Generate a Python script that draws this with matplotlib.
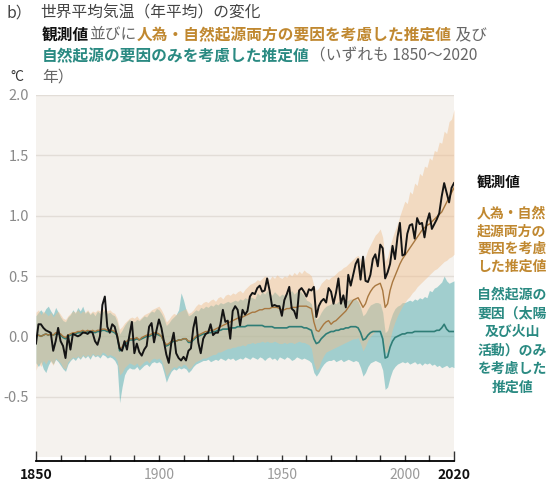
import numpy as np
import matplotlib
matplotlib.use('Agg')
import matplotlib.pyplot as plt

plt.rcParams['font.family'] = ['Noto Sans CJK JP', 'DejaVu Sans']

# ---- data (deg C, relative to 1850-1900) ----
years = np.arange(1850, 2021)

observed = [
    -0.06, 0.10, 0.10, 0.07, 0.05, 0.04, 0.03, -0.12, -0.04, 0.07,
    -0.04, -0.08, -0.18, 0.01, -0.11, 0.02, 0.01, 0.00, 0.01, 0.03,
    0.03, 0.02, 0.04, 0.03, -0.04, -0.07, 0.00, 0.26, 0.33, 0.08,
    0.03, 0.10, 0.08, 0.00, -0.10, -0.12, -0.04, -0.11, 0.01, 0.12,
    -0.14, -0.06, -0.13, -0.16, -0.11, -0.08, 0.08, 0.11, -0.05, 0.05,
    0.14, 0.07, -0.04, -0.15, -0.22, -0.06, 0.03, -0.14, -0.18, -0.20,
    -0.17, -0.20, -0.12, -0.10, 0.07, 0.16, -0.05, -0.14, -0.02, 0.02,
    0.03, 0.10, 0.01, 0.03, 0.03, 0.10, 0.22, 0.12, 0.13, -0.02,
    0.21, 0.25, 0.22, 0.09, 0.22, 0.18, 0.21, 0.33, 0.36, 0.35,
    0.40, 0.42, 0.37, 0.38, 0.48, 0.38, 0.25, 0.26, 0.25, 0.25,
    0.17, 0.30, 0.35, 0.41, 0.23, 0.21, 0.15, 0.38, 0.40, 0.37,
    0.33, 0.39, 0.38, 0.41, 0.16, 0.25, 0.29, 0.31, 0.28, 0.40,
    0.37, 0.27, 0.36, 0.48, 0.27, 0.34, 0.24, 0.51, 0.42, 0.51,
    0.60, 0.64, 0.47, 0.66, 0.46, 0.45, 0.51, 0.64, 0.68, 0.58,
    0.76, 0.73, 0.48, 0.53, 0.60, 0.75, 0.64, 0.82, 0.94, 0.67,
    0.68, 0.85, 0.92, 0.93, 0.81, 0.98, 0.93, 0.94, 0.82, 0.95,
    1.02, 0.89, 0.93, 0.97, 1.02, 1.16, 1.27, 1.19, 1.11, 1.23,
    1.27,
]

# human + natural forcing, model mean and range
both_mean = [
    0.00, 0.01, 0.00, 0.01, 0.02, 0.01, 0.02, 0.01, 0.03, 0.03,
    0.02, 0.00, -0.01, 0.01, 0.02, 0.03, 0.03, 0.04, 0.04, 0.05,
    0.04, 0.05, 0.04, 0.05, 0.04, 0.05, 0.05, 0.06, 0.06, 0.05,
    0.05, 0.05, 0.04, 0.02, -0.10, -0.09, -0.05, -0.04, -0.02, -0.02,
    -0.02, -0.01, -0.03, -0.01, 0.00, 0.01, 0.01, 0.02, 0.03, 0.03,
    0.02, 0.00, -0.04, -0.07, -0.06, -0.04, -0.03, -0.04, -0.03, -0.03,
    -0.02, -0.02, -0.04, -0.04, -0.02, 0.00, 0.01, 0.02, 0.03, 0.04,
    0.04, 0.05, 0.05, 0.06, 0.07, 0.08, 0.09, 0.10, 0.11, 0.12,
    0.13, 0.14, 0.15, 0.16, 0.16, 0.17, 0.18, 0.19, 0.20, 0.20,
    0.21, 0.22, 0.22, 0.23, 0.23, 0.23, 0.24, 0.24, 0.24, 0.23,
    0.22, 0.22, 0.23, 0.23, 0.24, 0.24, 0.24, 0.25, 0.25, 0.25,
    0.25, 0.24, 0.23, 0.12, 0.05, 0.04, 0.07, 0.10, 0.12, 0.13,
    0.10, 0.12, 0.13, 0.15, 0.17, 0.19, 0.21, 0.24, 0.27, 0.30,
    0.31, 0.32, 0.28, 0.24, 0.27, 0.33, 0.37, 0.40, 0.42, 0.43,
    0.44, 0.38, 0.24, 0.27, 0.38, 0.45, 0.50, 0.55, 0.60, 0.64,
    0.67, 0.70, 0.73, 0.76, 0.79, 0.82, 0.85, 0.88, 0.90, 0.92,
    0.93, 0.95, 0.97, 0.99, 1.01, 1.03, 1.07, 1.11, 1.15, 1.19,
    1.23,
]
both_low = [
    -0.28, -0.22, -0.25, -0.20, -0.23, -0.19, -0.21, -0.24, -0.18, -0.20,
    -0.22, -0.26, -0.27, -0.21, -0.19, -0.17, -0.18, -0.16, -0.18, -0.15,
    -0.17, -0.15, -0.17, -0.14, -0.16, -0.15, -0.16, -0.13, -0.14, -0.16,
    -0.15, -0.16, -0.17, -0.20, -0.32, -0.30, -0.26, -0.24, -0.22, -0.23,
    -0.24, -0.22, -0.25, -0.23, -0.21, -0.20, -0.22, -0.19, -0.18, -0.19,
    -0.18, -0.20, -0.26, -0.33, -0.30, -0.27, -0.25, -0.26, -0.24, -0.25,
    -0.23, -0.24, -0.27, -0.26, -0.23, -0.21, -0.20, -0.19, -0.18, -0.18,
    -0.17, -0.16, -0.15, -0.15, -0.13, -0.13, -0.12, -0.11, -0.10, -0.10,
    -0.09, -0.09, -0.08, -0.08, -0.07, -0.08, -0.06, -0.06, -0.05, -0.06,
    -0.05, -0.05, -0.04, -0.05, -0.04, -0.05, -0.05, -0.04, -0.05, -0.06,
    -0.06, -0.05, -0.06, -0.05, -0.05, -0.06, -0.05, -0.04, -0.05, -0.05,
    -0.06, -0.07, -0.10, -0.22, -0.28, -0.26, -0.20, -0.16, -0.13, -0.12,
    -0.11, -0.10, -0.09, -0.08, -0.07, -0.06, -0.05, -0.04, -0.03, -0.02,
    -0.02, -0.01, -0.06, -0.12, -0.08, -0.03, 0.00, 0.02, 0.04, 0.05,
    0.06, 0.00, -0.14, -0.12, -0.02, 0.06, 0.12, 0.17, 0.21, 0.25,
    0.28, 0.31, 0.33, 0.36, 0.38, 0.41, 0.43, 0.45, 0.47, 0.49,
    0.51, 0.53, 0.55, 0.56, 0.58, 0.60, 0.62, 0.63, 0.65, 0.66,
    0.68,
]
both_high = [
    0.20, 0.22, 0.18, 0.21, 0.19, 0.17, 0.20, 0.16, 0.19, 0.21,
    0.18, 0.15, 0.14, 0.17, 0.19, 0.21, 0.20, 0.22, 0.19, 0.21,
    0.20, 0.22, 0.19, 0.21, 0.20, 0.22, 0.21, 0.23, 0.22, 0.21,
    0.22, 0.20, 0.19, 0.15, 0.06, 0.08, 0.11, 0.13, 0.15, 0.16,
    0.15, 0.17, 0.14, 0.16, 0.18, 0.19, 0.20, 0.22, 0.23, 0.24,
    0.25, 0.22, 0.18, 0.12, 0.14, 0.17, 0.19, 0.18, 0.20, 0.21,
    0.22, 0.23, 0.19, 0.20, 0.22, 0.25, 0.27, 0.26, 0.28, 0.29,
    0.28, 0.30, 0.31, 0.29, 0.32, 0.33, 0.31, 0.34, 0.35, 0.34,
    0.36, 0.35, 0.37, 0.38, 0.36, 0.39, 0.41, 0.43, 0.44, 0.45,
    0.47, 0.46, 0.48, 0.50, 0.49, 0.47, 0.50, 0.48, 0.51, 0.49,
    0.48, 0.50, 0.49, 0.52, 0.50, 0.53, 0.51, 0.54, 0.52, 0.55,
    0.53, 0.52, 0.50, 0.42, 0.38, 0.40, 0.44, 0.46, 0.48, 0.47,
    0.49, 0.50, 0.52, 0.54, 0.55, 0.57, 0.58, 0.60, 0.62, 0.64,
    0.66, 0.67, 0.64, 0.60, 0.66, 0.72, 0.76, 0.80, 0.84, 0.86,
    0.89, 0.82, 0.62, 0.66, 0.75, 0.82, 0.88, 0.93, 1.00, 1.06,
    1.12, 1.10, 1.20, 1.18, 1.27, 1.25, 1.35, 1.33, 1.41, 1.40,
    1.48, 1.46, 1.54, 1.53, 1.61, 1.60, 1.70, 1.68, 1.78, 1.80,
    1.88,
]

# natural forcing only (solar + volcanic), model mean and range
natural_mean = [
    0.00, 0.01, 0.00, 0.01, 0.02, 0.01, 0.02, 0.01, 0.02, 0.02,
    0.01, -0.01, -0.02, 0.00, 0.01, 0.02, 0.02, 0.03, 0.03, 0.04,
    0.03, 0.04, 0.03, 0.04, 0.03, 0.04, 0.04, 0.05, 0.05, 0.04,
    0.04, 0.04, 0.03, 0.01, -0.12, -0.11, -0.07, -0.05, -0.03, -0.03,
    -0.03, -0.02, -0.03, -0.02, -0.01, 0.00, 0.00, 0.01, 0.02, 0.02,
    0.01, 0.00, -0.04, -0.08, -0.07, -0.05, -0.04, -0.04, -0.03, -0.03,
    -0.02, -0.02, -0.05, -0.05, -0.03, -0.01, 0.00, 0.01, 0.02, 0.02,
    0.03, 0.03, 0.04, 0.04, 0.05, 0.05, 0.06, 0.06, 0.06, 0.07,
    0.07, 0.07, 0.08, 0.08, 0.08, 0.08, 0.09, 0.09, 0.09, 0.09,
    0.09, 0.09, 0.09, 0.08, 0.08, 0.08, 0.08, 0.07, 0.07, 0.07,
    0.07, 0.07, 0.07, 0.08, 0.08, 0.08, 0.08, 0.08, 0.08, 0.07,
    0.07, 0.06, 0.05, -0.02, -0.06, -0.05, -0.02, 0.00, 0.02, 0.03,
    0.04, 0.04, 0.05, 0.05, 0.06, 0.06, 0.07, 0.07, 0.08, 0.08,
    0.08, 0.07, 0.03, -0.03, -0.02, 0.01, 0.03, 0.04, 0.04, 0.04,
    0.04, -0.02, -0.18, -0.17, -0.09, -0.04, -0.01, 0.00, 0.01, 0.02,
    0.02, 0.03, 0.03, 0.03, 0.04, 0.04, 0.04, 0.04, 0.04, 0.04,
    0.04, 0.04, 0.04, 0.05, 0.05, 0.07, 0.10, 0.06, 0.04, 0.04,
    0.04,
]
natural_low = [
    -0.22, -0.25, -0.21, -0.27, -0.30, -0.24, -0.20, -0.23, -0.19, -0.21,
    -0.24, -0.27, -0.29, -0.23, -0.20, -0.18, -0.20, -0.17, -0.19, -0.16,
    -0.18, -0.16, -0.19, -0.15, -0.17, -0.16, -0.18, -0.15, -0.16, -0.18,
    -0.17, -0.18, -0.20, -0.24, -0.55, -0.42, -0.32, -0.28, -0.26, -0.27,
    -0.27, -0.25, -0.28, -0.26, -0.24, -0.23, -0.25, -0.22, -0.21, -0.22,
    -0.21, -0.23, -0.30, -0.38, -0.33, -0.29, -0.27, -0.28, -0.26, -0.27,
    -0.26, -0.27, -0.30, -0.28, -0.25, -0.23, -0.22, -0.21, -0.20, -0.20,
    -0.19, -0.21, -0.20, -0.19, -0.20, -0.18, -0.19, -0.20, -0.18, -0.19,
    -0.18, -0.20, -0.19, -0.18, -0.19, -0.17, -0.18, -0.19, -0.17, -0.18,
    -0.19, -0.17, -0.18, -0.20, -0.18, -0.17, -0.19, -0.18, -0.20, -0.17,
    -0.18, -0.19, -0.17, -0.18, -0.20, -0.19, -0.17, -0.18, -0.19, -0.18,
    -0.19, -0.20, -0.22, -0.30, -0.33, -0.30, -0.26, -0.23, -0.21, -0.20,
    -0.20, -0.19, -0.21, -0.20, -0.19, -0.21, -0.20, -0.19, -0.20, -0.21,
    -0.20, -0.21, -0.26, -0.33, -0.30, -0.25, -0.22, -0.21, -0.20, -0.21,
    -0.22, -0.28, -0.44, -0.42, -0.34, -0.28, -0.25, -0.23, -0.22, -0.21,
    -0.22, -0.21, -0.23, -0.22, -0.21, -0.23, -0.22, -0.24, -0.22, -0.23,
    -0.22, -0.24, -0.23, -0.25, -0.24, -0.26, -0.25, -0.24, -0.26, -0.25,
    -0.26,
]
natural_high = [
    0.17, 0.20, 0.22, 0.19, 0.23, 0.25, 0.21, 0.18, 0.24, 0.20,
    0.16, 0.13, 0.12, 0.16, 0.18, 0.22, 0.19, 0.24, 0.21, 0.25,
    0.19, 0.21, 0.18, 0.20, 0.17, 0.21, 0.19, 0.20, 0.22, 0.19,
    0.20, 0.18, 0.17, 0.12, 0.02, 0.05, 0.09, 0.12, 0.14, 0.13,
    0.12, 0.14, 0.13, 0.15, 0.17, 0.16, 0.19, 0.21, 0.20, 0.23,
    0.22, 0.19, 0.15, 0.09, 0.11, 0.14, 0.16, 0.18, 0.22, 0.36,
    0.30, 0.22, 0.17, 0.18, 0.20, 0.22, 0.21, 0.24, 0.23, 0.25,
    0.24, 0.26, 0.25, 0.27, 0.26, 0.28, 0.27, 0.28, 0.29, 0.28,
    0.29, 0.30, 0.29, 0.31, 0.30, 0.32, 0.31, 0.33, 0.32, 0.31,
    0.36, 0.34, 0.37, 0.35, 0.38, 0.36, 0.34, 0.37, 0.35, 0.33,
    0.35, 0.34, 0.37, 0.36, 0.38, 0.35, 0.37, 0.39, 0.36, 0.34,
    0.30, 0.29, 0.27, 0.18, 0.14, 0.16, 0.20, 0.23, 0.25, 0.26,
    0.27, 0.28, 0.27, 0.29, 0.28, 0.30, 0.29, 0.30, 0.31, 0.30,
    0.31, 0.29, 0.24, 0.17, 0.19, 0.23, 0.26, 0.27, 0.28, 0.28,
    0.27, 0.20, 0.03, 0.05, 0.13, 0.19, 0.23, 0.25, 0.26, 0.28,
    0.28, 0.29, 0.30, 0.29, 0.31, 0.30, 0.32, 0.31, 0.33, 0.32,
    0.38, 0.37, 0.40, 0.41, 0.43, 0.45, 0.50, 0.46, 0.44, 0.45,
    0.46,
]

x_ticks = [1850, 1900, 1950, 2000, 2020]
x_labels = ['1850', '1900', '1950', '2000', '2020']
y_ticks = [-0.5, 0.0, 0.5, 1.0, 1.5, 2.0]
y_labels = ['-0.5', '0.0', '0.5', '1.0', '1.5', '2.0']

# ---- colours ----
BG = '#f5f2ee'
GRID = '#e2ddd7'
BOTH_BAND = '#efbf8f'
NAT_BAND = '#4eacaf'
BOTH_LINE = '#a8773f'
NAT_LINE = '#2f7d76'
OBS_LINE = '#141414'
BOTH_TEXT = '#c08830'
NAT_TEXT = '#2a8a82'
GREY_TEXT = '#666666'

W, H = 547, 488
fig = plt.figure(figsize=(W / 100, H / 100), dpi=100)


def px(x, y):
    return x / W, 1 - y / H


ax = fig.add_axes([36 / W, 1 - 457 / H, 418 / W, 362 / H])
ax.set_facecolor(BG)
ax.set_xlim(1850, 2020)
ax.set_ylim(-1.0, 2.0)

ax.fill_between(years, natural_low, natural_high, color=NAT_BAND, alpha=0.5, lw=0)
ax.fill_between(years, both_low, both_high, color=BOTH_BAND, alpha=0.47, lw=0)
ax.plot(years, natural_mean, color=NAT_LINE, lw=1.2)
ax.plot(years, both_mean, color=BOTH_LINE, lw=1.0)
ax.plot(years, observed, color=OBS_LINE, lw=1.4)

# y axis: gridlines only, grey numbers
ax.set_yticks(y_ticks, labels=y_labels)
ax.grid(axis='y', color=GRID, lw=1.0)
ax.set_axisbelow(True)
ax.tick_params(axis='y', length=0, pad=5, labelsize=10.5, labelcolor='#8a8a8a')

# x axis: black baseline with small upward ticks
for side in ['left', 'right', 'top']:
    ax.spines[side].set_visible(False)
ax.spines['bottom'].set_position(('outward', 3))
ax.spines['bottom'].set_linewidth(1.3)
ax.set_xticks(x_ticks, labels=x_labels)
ax.set_xticks(np.arange(1850, 2021, 10), minor=True)
ax.tick_params(axis='x', which='both', direction='in', length=4, width=1,
               color='#333333', pad=5, labelsize=10)
for tick, lbl, yr in zip(ax.xaxis.get_major_ticks(), ax.get_xticklabels(), x_ticks):
    if yr in (1850, 2020):
        lbl.set_fontweight('bold')
        lbl.set_color('#111111')
        tick.tick1line.set_markersize(7)
    else:
        lbl.set_color('#9a9a9a')

# ---- heading ----
renderer = fig.canvas.get_renderer()


def text_runs(x, y, runs, size=11.3):
    for s, color, weight in runs:
        t = fig.text(*px(x, y), s, color=color, fontsize=size,
                     fontweight=weight, ha='left', va='center')
        x += t.get_window_extent(renderer).width


fig.text(*px(6, 13), 'b）', color='#444444', fontsize=11.3, va='center')
text_runs(40, 13, [('世界平均気温（年平均）の変化', '#444444', 'normal')])
text_runs(42, 35, [('観測値', '#111111', 'bold'),
                   ('並びに', GREY_TEXT, 'normal'),
                   ('人為・自然起源両方の要因を考慮した推定値', BOTH_TEXT, 'bold'),
                   (' 及び', GREY_TEXT, 'normal')])
text_runs(42, 56, [('自然起源の要因のみを考慮した推定値', NAT_TEXT, 'bold'),
                   ('（いずれも 1850～2020', GREY_TEXT, 'normal')])
text_runs(42, 77, [('年）', GREY_TEXT, 'normal')])
fig.text(*px(10, 77), '°C', color='#333333', fontsize=10, va='center')

# ---- series labels on the right ----
fig.text(*px(477, 182), '観測値', color='#111111', fontsize=10.5,
         fontweight='bold', va='center')
for i, line in enumerate(['人為・自然', '起源両方の', '要因を考慮', 'した推定値']):
    fig.text(*px(477, 213 + 18 * i), line, color=BOTH_TEXT, fontsize=10,
             fontweight='bold', va='center')
for i, line in enumerate(['自然起源の', '要因（太陽', '及び火山', '活動）のみ',
                          'を考慮した', '推定値']):
    fig.text(*px(512, 294 + 18.8 * i), line, color=NAT_TEXT, fontsize=10,
             fontweight='bold', va='center', ha='center')

fig.savefig('out.png', dpi=100, facecolor='white')
